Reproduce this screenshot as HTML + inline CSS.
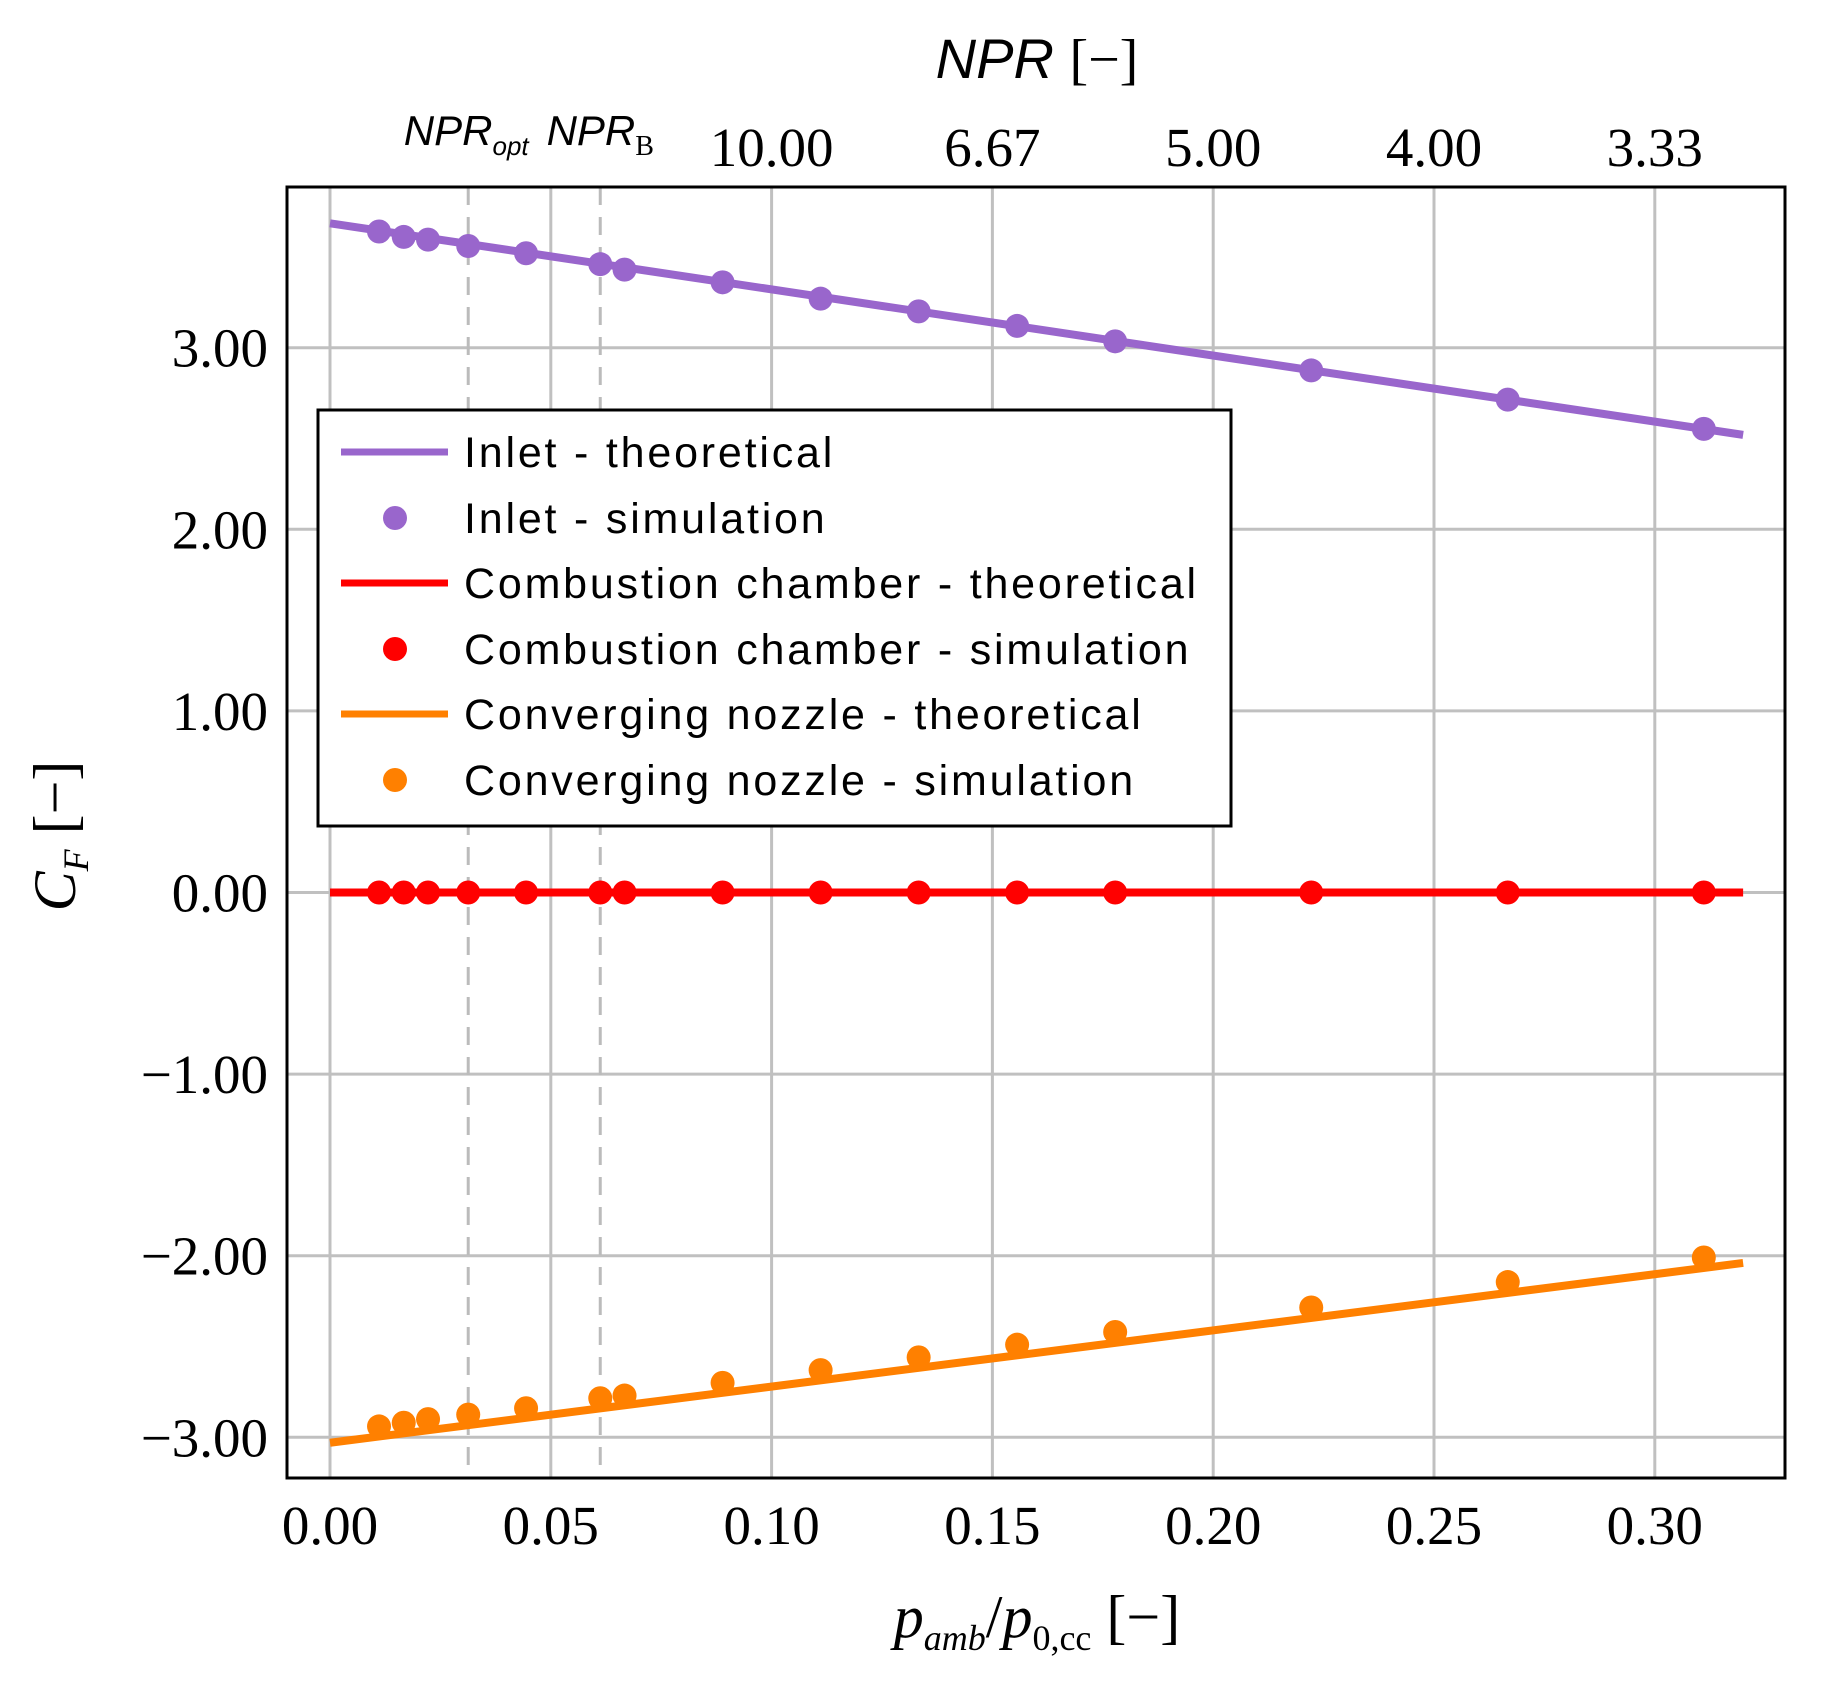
<!DOCTYPE html>
<html><head><meta charset="utf-8"><style>
html,body{margin:0;padding:0;background:#fff}
svg{display:block}
.tick{font-family:"Liberation Serif",serif;font-size:55px;fill:#000}
.leg{font-family:"Liberation Sans",sans-serif;font-size:43px;letter-spacing:2.8px;fill:#000}
</style></head><body>
<svg id="chart" width="1831" height="1682" viewBox="0 0 1831 1682" xmlns="http://www.w3.org/2000/svg">
<g id="grid"></g>
<g id="refs"></g>
<g id="series"></g>
<rect x="287" y="187" width="1498" height="1291" fill="none" stroke="#000" stroke-width="3"/>
<g id="labels"></g>
<text x="1037" y="78" text-anchor="middle" style="font-family:'Liberation Sans',sans-serif;font-size:56px;font-style:italic">NPR <tspan style="font-style:normal;font-family:'Liberation Serif',serif">[−]</tspan></text>
<text x="1037" y="1637" text-anchor="middle" style="font-family:'Liberation Serif',serif;font-size:60px"><tspan font-style="italic">p</tspan><tspan font-style="italic" font-size="36" dy="13">amb</tspan><tspan dy="-13">/</tspan><tspan font-style="italic">p</tspan><tspan font-size="36" dy="13">0,cc</tspan><tspan dy="-13"> [−]</tspan></text>
<text transform="translate(75,836) rotate(-90)" text-anchor="middle" style="font-family:'Liberation Serif',serif;font-size:60px"><tspan font-style="italic">C</tspan><tspan font-style="italic" font-size="36" dy="13">F</tspan><tspan dy="-13"> [−]</tspan></text>
<g>
<rect x="318" y="410" width="913" height="416" fill="#fff" stroke="#000" stroke-width="3"/>
<line x1="341" y1="452" x2="448" y2="452" stroke="#9966cc" stroke-width="7"/>
<text class="leg" x="464" y="467">Inlet - theoretical</text>
<circle cx="395" cy="518" r="12" fill="#9966cc"/>
<text class="leg" x="464" y="533">Inlet - simulation</text>
<line x1="341" y1="583" x2="448" y2="583" stroke="#ff0000" stroke-width="7"/>
<text class="leg" x="464" y="598">Combustion chamber - theoretical</text>
<circle cx="395" cy="649" r="12" fill="#ff0000"/>
<text class="leg" x="464" y="664">Combustion chamber - simulation</text>
<line x1="341" y1="714" x2="448" y2="714" stroke="#ff8000" stroke-width="7"/>
<text class="leg" x="464" y="729">Converging nozzle - theoretical</text>
<circle cx="395" cy="780" r="12" fill="#ff8000"/>
<text class="leg" x="464" y="795">Converging nozzle - simulation</text>
</g>
</svg>
<script>
const xTicks = [0, 0.05, 0.10, 0.15, 0.20, 0.25, 0.30];
const xTickLabels = ["0.00","0.05","0.10","0.15","0.20","0.25","0.30"];
const yTicks = [-3, -2, -1, 0, 1, 2, 3];
const yTickLabels = ["−3.00","−2.00","−1.00","0.00","1.00","2.00","3.00"];
const nprTickPos = [0.10, 0.15, 0.20, 0.25, 0.30];
const nprTickLabels = ["10.00","6.67","5.00","4.00","3.33"];
const refX = [0.0313, 0.0612];
const simX = [0.0111,0.0167,0.0222,0.0313,0.0444,0.0612,0.0667,0.0889,0.1111,0.1333,0.1556,0.1778,0.2222,0.2667,0.3111];
const inletSim = [3.64,3.61,3.595,3.56,3.52,3.46,3.43,3.36,3.27,3.20,3.12,3.035,2.875,2.714,2.553];
const ccSim = [0,0,0,0,0,0,0,0,0,0,0,0,0,0,0];
const nozzleSim = [-2.94,-2.92,-2.90,-2.875,-2.84,-2.785,-2.77,-2.70,-2.63,-2.56,-2.49,-2.42,-2.285,-2.145,-2.01];
const theoryX = [0, 0.32];
const inletTheory = [3.685, 2.52];
const ccTheory = [0, 0];
const nozzleTheory = [-3.03, -2.04];

const NS = "http://www.w3.org/2000/svg";
const X = v => 330 + v * 4416;
const Y = v => 892.5 - v * 181.6;
function mk(tag, attrs, parent){ const e=document.createElementNS(NS,tag); for(const k in attrs) e.setAttribute(k,attrs[k]); parent.appendChild(e); return e; }
const grid=document.getElementById('grid'), refs=document.getElementById('refs'), ser=document.getElementById('series'), lab=document.getElementById('labels');

xTicks.forEach((t,i)=>{
  const l=mk('line',{x1:X(t),x2:X(t),y1:187,y2:1478,stroke:'#c0c0c0','stroke-width':3},grid);
  
  
  const tx=mk('text',{x:X(t),y:1544,'text-anchor':'middle',class:'tick'},lab);
  tx.textContent=xTickLabels[i];
  
  
});
yTicks.forEach((t,i)=>{
  const l=mk('line',{x1:287,x2:1785,y1:Y(t),y2:Y(t),stroke:'#c0c0c0','stroke-width':3},grid);
  
  
  const tx=mk('text',{x:268,y:Y(t)+19,'text-anchor':'end',class:'tick'},lab);
  tx.textContent=yTickLabels[i];
  
  
});
nprTickPos.forEach((t,i)=>{
  const tx=mk('text',{x:X(t),y:166,'text-anchor':'middle',class:'tick'},lab);
  tx.textContent=nprTickLabels[i];
  
  
});
refX.forEach(t=>{
  const l=mk('line',{x1:X(t),x2:X(t),y1:187,y2:1478,stroke:'#bbbbbb','stroke-width':3,'stroke-dasharray':'18 12'},refs);
  
  
});
const t1=mk('text',{x:X(refX[0])-2,y:145,'text-anchor':'middle',style:"font-family:'Liberation Sans',sans-serif;font-size:42px;font-style:italic"},lab);
t1.innerHTML='NPR<tspan font-size="26" dy="10">opt</tspan>';


const t2=mk('text',{x:X(refX[1]),y:145,'text-anchor':'middle',style:"font-family:'Liberation Sans',sans-serif;font-size:42px;font-style:italic"},lab);
t2.innerHTML='NPR<tspan font-size="28" dy="10" font-style="normal" font-family="Liberation Serif">B</tspan>';



function theory(vals,color,name){
  const l=mk('line',{x1:X(theoryX[0]),y1:Y(vals[0]),x2:X(theoryX[1]),y2:Y(vals[1]),stroke:color,'stroke-width':8},ser);
  
  
}
function sim(vals,color,name){
  vals.forEach((v,i)=>{
    const c=mk('circle',{cx:X(simX[i]),cy:Y(v),r:12,fill:color},ser);
    
    
  });
}
theory(inletTheory,'#9966cc','inlet-theory-line');
sim(inletSim,'#9966cc','inlet-sim-point');
theory(ccTheory,'#ff0000','cc-theory-line');
sim(ccSim,'#ff0000','cc-sim-point');
theory(nozzleTheory,'#ff8000','nozzle-theory-line');
sim(nozzleSim,'#ff8000','nozzle-sim-point');
</script>
</body></html>
